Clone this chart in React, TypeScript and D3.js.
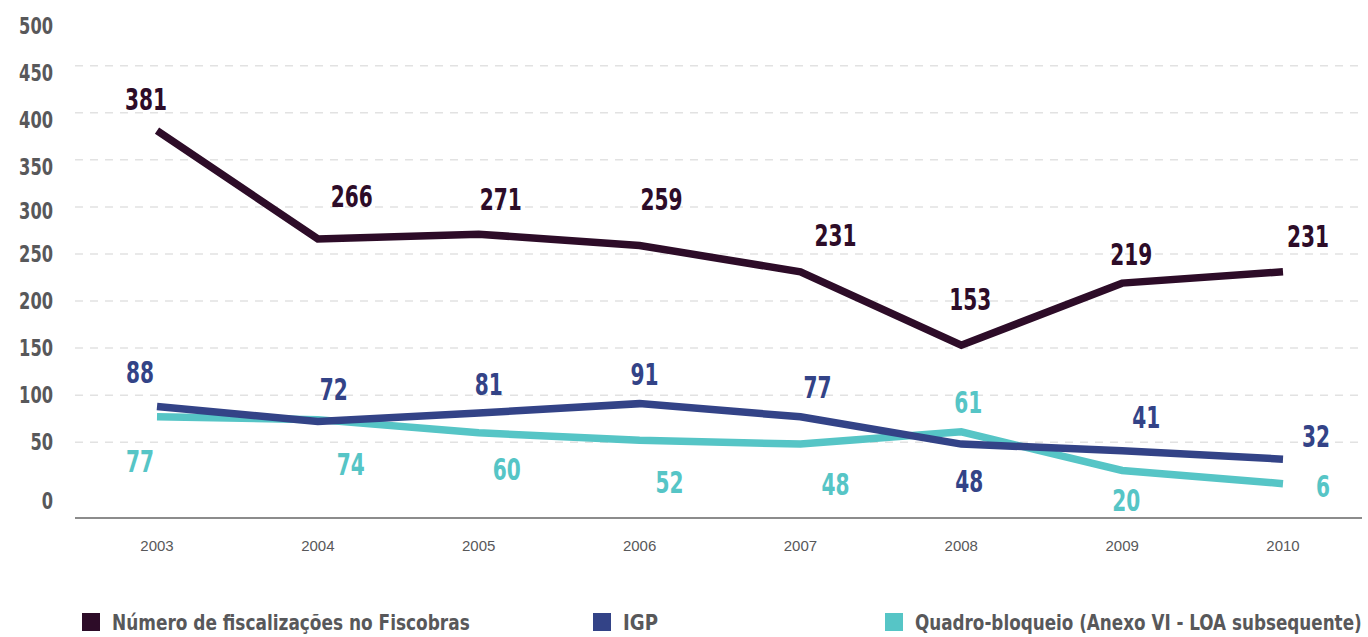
import React from 'react';
import * as d3 from 'd3';

const years = ['2003', '2004', '2005', '2006', '2007', '2008', '2009', '2010'];
const fiscobras = [381, 266, 271, 259, 231, 153, 219, 231];
const igp = [88, 72, 81, 91, 77, 48, 41, 32];
const quadro = [77, 74, 60, 52, 48, 61, 20, 6];
const yTicks = [0, 50, 100, 150, 200, 250, 300, 350, 400, 450, 500];
const gridTicks = [50, 100, 150, 200, 250, 300, 350, 400, 450];
const seriesNames = [
  'Número de fiscalizações no Fiscobras',
  'IGP',
  'Quadro-bloqueio (Anexo VI - LOA subsequente)',
];

// label placement offsets (dx, dy from point to label baseline-center)
const fiscOffsets = [[-11, -21], [34, -32], [22, -24], [22, -35], [35, -26], [9, -35], [9, -18], [25, -25]];
const igpOffsets = [[-17, -23], [16, -22], [10, -18], [5, -19], [17, -19], [8, 48], [24, -23], [33, -12]];
const quadroOffsets = [[-17, 55], [33, 55], [28, 47], [30, 53], [35, 51], [7, -19], [4, 41], [40, 13]];

const COLORS = ['#2d0c28', '#334387', '#56c5c6'];
const FONT = '"DejaVu Sans Condensed", "DejaVu Sans", sans-serif';

function measure(text: string, font: string): number {
  if (typeof document === 'undefined') return text.length * 10;
  const c = document.createElement('canvas');
  const ctx = c.getContext('2d');
  if (!ctx) return text.length * 10;
  ctx.font = font;
  return ctx.measureText(text).width;
}

export default function App() {
  const W = 1368;
  const H = 637;
  const x = d3.scalePoint<string>().domain(years).range([157, 1283]);
  const y = d3.scaleLinear().domain([0, 500]).range([489.3, 18.6]);
  const line = d3
    .line<number>()
    .x((_, i) => x(years[i]) as number)
    .y((d) => y(d));

  const series = [
    { name: seriesNames[0], values: fiscobras, color: COLORS[0], offsets: fiscOffsets },
    { name: seriesNames[2], values: quadro, color: COLORS[2], offsets: quadroOffsets },
    { name: seriesNames[1], values: igp, color: COLORS[1], offsets: igpOffsets },
  ];

  const yLabelShift = (v: number) => (v >= 350 ? 7 : v === 300 ? 4 : v === 0 ? 12 : 0);

  const legend = [
    { name: seriesNames[0], color: COLORS[0], x: 82, width: 358 },
    { name: seriesNames[1], color: COLORS[1], x: 593, width: 35 },
    { name: seriesNames[2], color: COLORS[2], x: 885, width: 447 },
  ];
  const legendFont = 'bold 21px "DejaVu Sans Condensed", "DejaVu Sans", sans-serif';

  return (
    <svg
      width={W}
      height={H}
      style={{ position: 'absolute', left: 0, top: 0, background: '#fff' }}
      fontFamily={FONT}
    >
      {gridTicks.map((t) => (
        <line
          key={t}
          x1={75}
          x2={1362}
          y1={y(t)}
          y2={y(t)}
          stroke="#e2e2e2"
          strokeWidth={1.5}
          strokeDasharray="8 7"
        />
      ))}
      <line x1={75} x2={1362} y1={518} y2={518} stroke="#8c8c8c" strokeWidth={2} />
      {yTicks.map((t) => (
        <text
          key={t}
          x={53}
          y={y(t) + yLabelShift(t)}
          textAnchor="end"
          dominantBaseline="central"
          fontSize={23}
          fontWeight="bold"
          fill="#58585a"
          textLength={String(t).length * 11.3}
          lengthAdjust="spacingAndGlyphs"
        >
          {t}
        </text>
      ))}
      {years.map((yr) => (
        <text
          key={yr}
          x={x(yr)}
          y={551}
          textAnchor="middle"
          fontSize={15}
          fill="#58585a"
          fontFamily='"Liberation Sans", sans-serif'
        >
          {yr}
        </text>
      ))}
      {series.map((s) => (
        <path
          key={s.name}
          d={line(s.values) || ''}
          fill="none"
          stroke={s.color}
          strokeWidth={7.5}
          strokeLinejoin="miter"
        />
      ))}
      {series.map((s) =>
        s.values.map((v, i) => (
          <text
            key={s.name + i}
            x={(x(years[i]) as number) + s.offsets[i][0]}
            y={y(v) + s.offsets[i][1]}
            textAnchor="middle"
            fontSize={31}
            fontWeight="bold"
            fill={s.color}
            textLength={String(v).length * 14}
            lengthAdjust="spacingAndGlyphs"
          >
            {v}
          </text>
        ))
      )}
      {legend.map((l) => {
        const natural = measure(l.name, legendFont) || l.width;
        const sx = l.width / natural;
        return (
          <g key={l.name}>
            <rect x={l.x} y={613} width={18} height={18} fill={l.color} />
            <g transform={`translate(${l.x + 30},630) scale(${sx},1)`}>
              <text x={0} y={0} fontSize={21} fontWeight="bold" fill="#58585a">
                {l.name}
              </text>
            </g>
          </g>
        );
      })}
    </svg>
  );
}
